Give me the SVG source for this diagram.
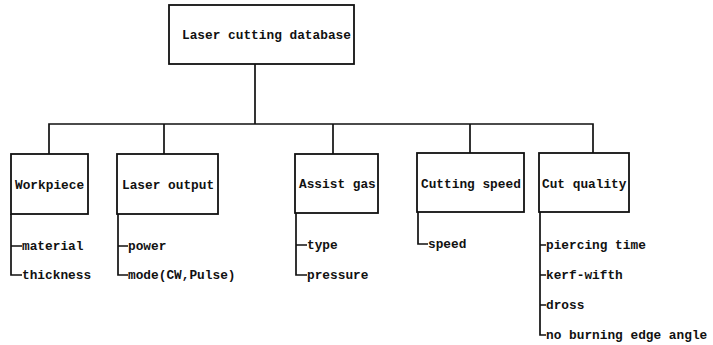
<svg xmlns="http://www.w3.org/2000/svg" width="713" height="345" viewBox="0 0 713 345">
<style>
.box{fill:#fff;stroke:#111;stroke-width:1.8}
.ln{fill:none;stroke:#111;stroke-width:1.7}
text{font-family:"Liberation Mono","DejaVu Sans Mono",monospace;font-size:12.8px;font-weight:bold;fill:#111}
</style>
<rect width="713" height="345" fill="#fff"/>
<g id="connectors">
<path class="ln" d="M255,64 V124 M49,154 V124 H593 V153 M164,124 V154 M333,124 V154 M470,124 V153"/>
<path class="ln" d="M11,214 V275 H22 M11,246 H22"/>
<path class="ln" d="M118,214 V275 H128 M118,246 H128"/>
<path class="ln" d="M296,213 V275 H307 M296,245 H307"/>
<path class="ln" d="M418,212 V244 H428"/>
<path class="ln" d="M540,212 V335 H546 M540,245 H546 M540,275 H546 M540,305 H546"/>
</g>
<g id="root"><rect class="box" x="169" y="5" width="185" height="59"/><text x="182" y="39">Laser cutting database</text></g>
<g id="workpiece"><rect class="box" x="11" y="154" width="77" height="60"/><text x="15" y="189">Workpiece</text>
<text x="22" y="250">material</text><text x="22" y="279">thickness</text></g>
<g id="laser-output"><rect class="box" x="117" y="154" width="101" height="60"/><text x="122" y="189">Laser output</text>
<text x="128" y="250">power</text><text x="128" y="279">mode(CW,Pulse)</text></g>
<g id="assist-gas"><rect class="box" x="295" y="154" width="83" height="59"/><text x="299" y="188">Assist gas</text>
<text x="307" y="249">type</text><text x="307" y="279">pressure</text></g>
<g id="cutting-speed"><rect class="box" x="417" y="153" width="107" height="59"/><text x="421" y="188">Cutting speed</text>
<text x="428" y="248">speed</text></g>
<g id="cut-quality"><rect class="box" x="539" y="153" width="90" height="59"/><text x="542" y="188">Cut quality</text>
<text x="546" y="249">piercing time</text><text x="546" y="279">kerf-wifth</text><text x="546" y="309">dross</text><text x="546" y="339">no burning edge angle</text></g>
</svg>
